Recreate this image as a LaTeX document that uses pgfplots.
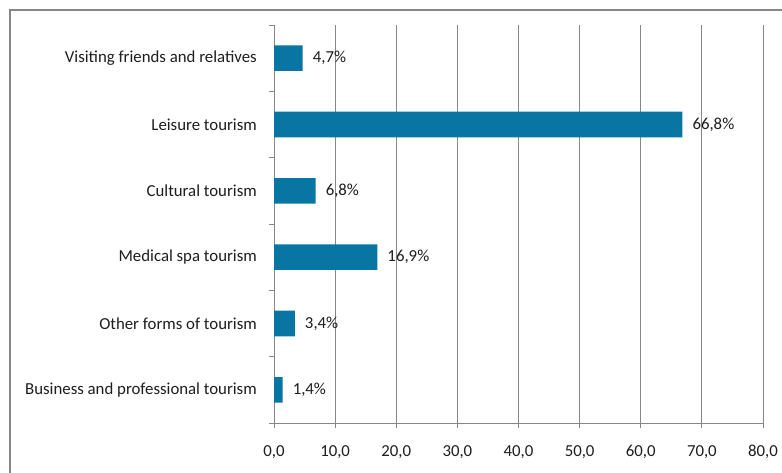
\documentclass[border=0pt]{standalone}
\usepackage{pgfplots}
\pgfplotsset{compat=1.18}
\usepackage{fontspec}
\setmainfont{Carlito}
\definecolor{barblue}{RGB}{8,117,163}
\definecolor{gridgray}{RGB}{135,135,135}
\definecolor{txt}{RGB}{30,30,30}
\begin{document}
\begin{tikzpicture}
\useasboundingbox (0pt,0pt) rectangle (782pt,-473pt);
\fill[white] (0pt,0pt) rectangle (782pt,-473pt);
\draw[gridgray, line width=1.5pt] (10pt,-480pt) -- (10pt,-10pt) -- (790pt,-10pt);
\begin{axis}[
  at={(274pt,-423pt)}, anchor=south west,
  scale only axis, width=489pt, height=398pt,
  xbar, bar width=0.386,
  xmin=0, xmax=80, ymin=-0.5, ymax=5.5,
  enlargelimits=false,
  axis x line*=bottom, axis y line*=left,
  axis line style={draw=gridgray, line width=0.8pt, -},
  xtick={0,10,...,80},
  xmajorgrids, major grid style={gridgray, line width=0.8pt},
  ytick={0,...,5},
  yticklabels={Business and professional tourism, Other forms of tourism, Medical spa tourism, Cultural tourism, Leisure tourism, Visiting friends and relatives},
  minor ytick={-0.5,0.5,...,5.5},
  tick align=outside,
  major tick length=5pt, minor tick length=5pt,
  y tick style={draw=none},
  minor y tick style={draw=gridgray, line width=0.8pt},
  x tick style={draw=gridgray, line width=0.8pt},
  yticklabel style={font=\fontsize{16.8}{19}\selectfont, text=txt, inner sep=0pt, xshift=-12pt},
  xticklabel style={font=\fontsize{16.8}{19}\selectfont, text=txt, inner sep=0pt, yshift=-17pt},
  /pgf/number format/assume math mode=true,
  xticklabel={\pgfmathprintnumber[fixed, fixed zerofill, precision=1, use comma]{\tick}},
  point meta=x,
  nodes near coords={\pgfmathprintnumber[fixed, fixed zerofill, precision=1, use comma]{\pgfplotspointmeta}\%},
  nodes near coords style={font=\fontsize{16.8}{19}\selectfont, text=txt, anchor=west, inner sep=0pt, xshift=10pt},
]
\addplot[fill=barblue, draw=none] coordinates {
  (1.4,0) (3.4,1) (16.9,2) (6.8,3) (66.8,4) (4.7,5)
};
\end{axis}
\end{tikzpicture}
\end{document}
